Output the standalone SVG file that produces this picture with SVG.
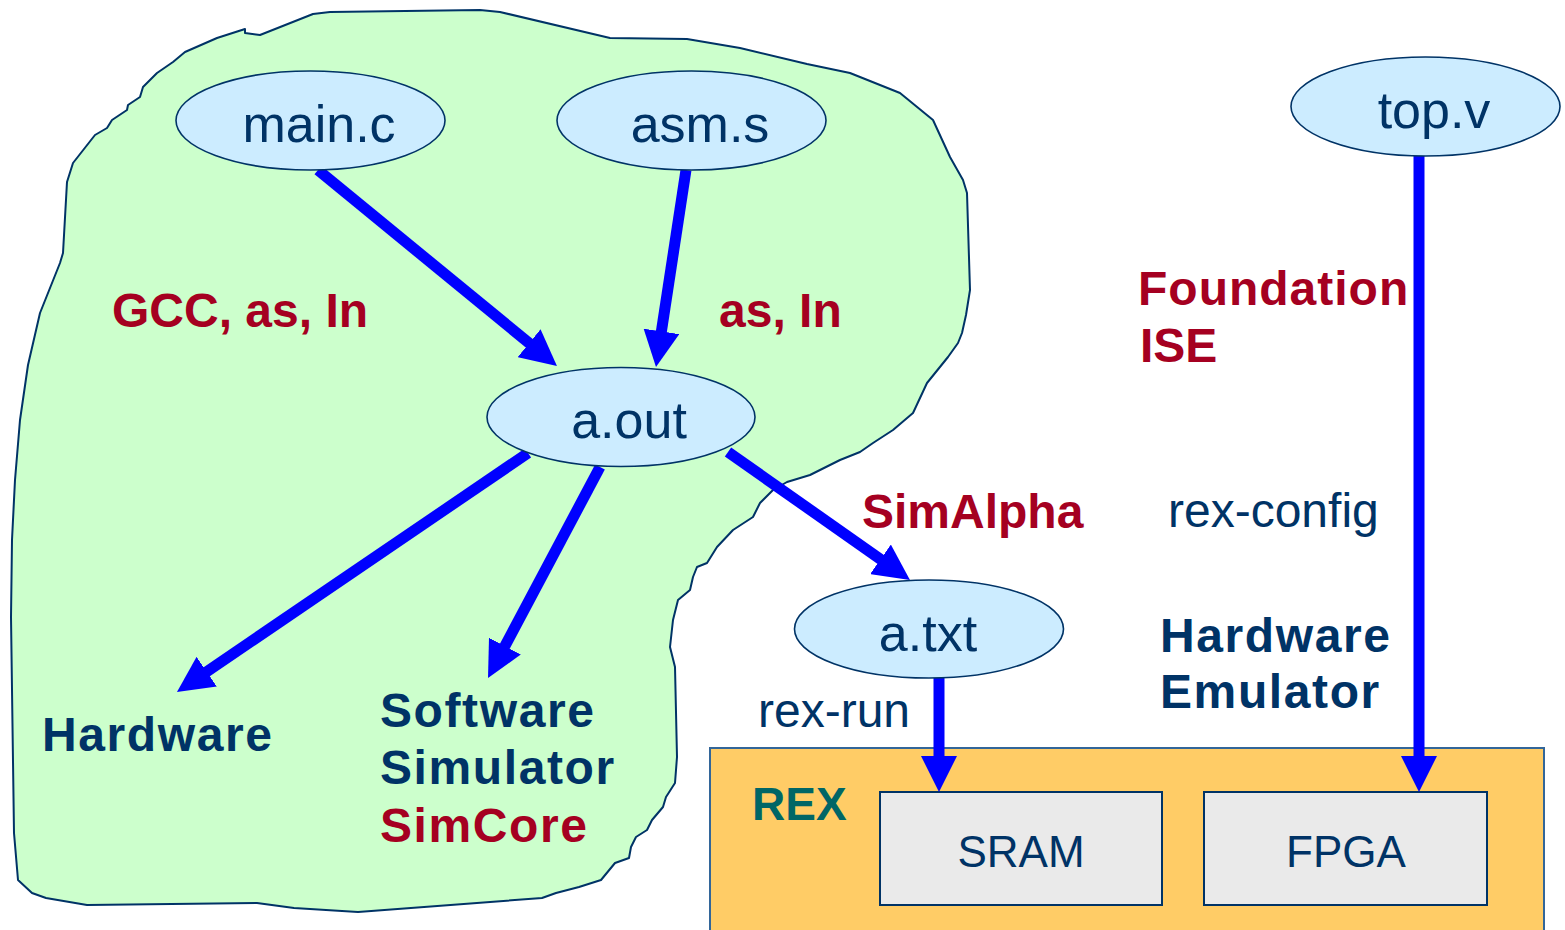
<svg xmlns="http://www.w3.org/2000/svg" width="1565" height="930" viewBox="0 0 1565 930">
<style>
.ell{fill:#CCECFF;stroke:#003366;stroke-width:1.6}
.lbl{font-family:"Liberation Sans",Arial,sans-serif;font-size:52px;fill:#003366;text-anchor:middle}
.reg{font-family:"Liberation Sans",Arial,sans-serif;font-size:48px;fill:#003366}
.bold{font-family:"Liberation Sans",Arial,sans-serif;font-size:48px;font-weight:bold;fill:#003366}
.sp{letter-spacing:1.6px}
.red{fill:#A50021}
.box{fill:#EAEAEA;stroke:#003366;stroke-width:2}
.arr{stroke:#0000FF;stroke-width:11;fill:none;marker-end:url(#ah)}
</style>
<defs>
<marker id="ah" markerUnits="userSpaceOnUse" markerWidth="36" markerHeight="36" refX="16" refY="18" orient="auto">
<path d="M0,0 L36,18 L0,36 z" fill="#0000FF"/>
</marker>
</defs>
<rect width="1565" height="930" fill="#FFFFFF"/>
<path id="blob" d="M245,29 L245,33 L260,35 L313,14 L330,12 L480,10 L500,12 L610,38 L687,39 L740,48 L807,64 L850,73 L900,93 L933,120 L950,157 L963,180 L967,193 L970,290 L966,315 L962,333 L958,343 L948,357 L927,383 L913,413 L893,430 L873,443 L860,452 L840,460 L810,475 L787,482 L773,490 L760,503 L753,517 L733,530 L717,547 L707,563 L697,567 L693,577 L690,590 L678,600 L673,620 L670,647 L675,667 L677,757 L675,783 L666,797 L663,807 L652,820 L647,830 L636,837 L631,847 L629,858 L615,863 L601,880 L579,887 L556,893 L542,898 L358,912 L294,908 L257,903 L87,905 L46,898 L32,893 L18,880 L14,833 L11,617 L12,540 L15,480 L20,420 L28,365 L40,313 L60,263 L63,253 L67,182 L73,163 L95,135 L107,128 L112,120 L127,110 L128,105 L140,97 L143,87 L157,73 L173,62 L185,52 L217,38 Z" fill="#CCFFCC" stroke="#003366" stroke-width="2" stroke-linejoin="round"/>
<g id="rex">
<rect x="710" y="748" width="834" height="200" fill="#FFCC66" stroke="#336699" stroke-width="2"/>
<text class="bold" x="752" y="820" style="fill:#006666;font-size:46px">REX</text>
</g>
<g id="sram">
<rect class="box" x="880" y="792" width="282" height="113"/>
<text class="reg" x="1021" y="867" text-anchor="middle" style="font-size:44px">SRAM</text>
</g>
<g id="fpga">
<rect class="box" x="1204" y="792" width="283" height="113"/>
<text class="reg" x="1346" y="867" text-anchor="middle" style="font-size:44px">FPGA</text>
</g>
<g id="connectors">
<line class="arr" x1="318" y1="170" x2="541.5" y2="353.3"/>
<line class="arr" x1="686" y1="170" x2="659" y2="347.2"/>
<line class="arr" x1="528" y1="453" x2="193.5" y2="680.7"/>
<line class="arr" x1="600" y1="467" x2="497.4" y2="660.3"/>
<line class="arr" x1="728" y1="452" x2="893.6" y2="568.5"/>
<line class="arr" x1="939" y1="678" x2="939" y2="772"/>
<line class="arr" x1="1419" y1="156" x2="1419" y2="772"/>
</g>
<g id="main_c">
<ellipse class="ell" cx="310.5" cy="120.5" rx="134.5" ry="49.5"/>
<text class="lbl" x="319" y="142">main.c</text>
</g>
<g id="asm_s">
<ellipse class="ell" cx="691.5" cy="120.5" rx="134.5" ry="49.5"/>
<text class="lbl" x="700" y="142">asm.s</text>
</g>
<g id="a_out">
<ellipse class="ell" cx="621" cy="417" rx="134" ry="49.5"/>
<text class="lbl" x="629" y="438">a.out</text>
</g>
<g id="a_txt">
<ellipse class="ell" cx="929" cy="629" rx="134.5" ry="49"/>
<text class="lbl" x="928" y="651">a.txt</text>
</g>
<g id="top_v">
<ellipse class="ell" cx="1425.5" cy="106.5" rx="134.5" ry="49.5"/>
<text class="lbl" x="1434" y="128">top.v</text>
</g>
<g id="labels">
<text class="bold red" x="112" y="327">GCC, as, In</text>
<text class="bold red" x="719" y="327">as, In</text>
<text class="bold red" x="862" y="528">SimAlpha</text>
<text class="bold red sp" x="1138" y="305" style="letter-spacing:1px">Foundation</text>
<text class="bold red" x="1140" y="362">ISE</text>
<text class="reg" x="1168" y="527">rex-config</text>
<text class="reg" x="758" y="727">rex-run</text>
<text class="bold sp" x="1160" y="652">Hardware</text>
<text class="bold sp" x="1160" y="708">Emulator</text>
<text class="bold sp" x="42" y="751">Hardware</text>
<text class="bold sp" x="380" y="727">Software</text>
<text class="bold sp" x="380" y="784">Simulator</text>
<text class="bold red sp" x="380" y="842">SimCore</text>
</g>
</svg>
